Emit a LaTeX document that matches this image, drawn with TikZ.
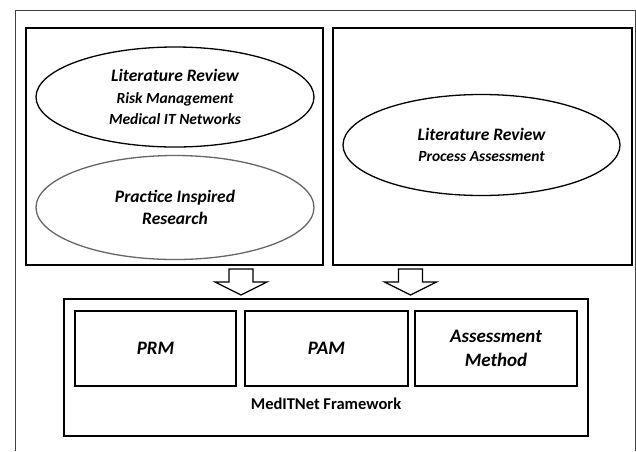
\documentclass[tikz,border=0pt]{standalone}
\usepackage{fontspec}
\setmainfont{Carlito}
\usetikzlibrary{shapes.geometric, positioning}

\tikzset{
  panel/.style={draw, line width=1.3pt, minimum width=#1, minimum height=237, inner sep=0},
  bubble/.style={ellipse, draw, line width=1.3pt, minimum width=278, minimum height=100,
    inner sep=0, align=center, font=\fontsize{15.5}{21.5}\selectfont\bfseries\itshape},
  part/.style={draw, line width=1.3pt, minimum width=#1, minimum height=75, inner sep=0,
    align=center, font=\fontsize{19}{24}\selectfont\bfseries\itshape},
  hollow/.style={draw, line width=1.3pt, fill=white}
}
\newcommand{\headtxt}[1]{{\fontsize{17.5}{21.5}\selectfont #1}}

\begin{document}
\begin{tikzpicture}[x=1pt, y=-1pt]
    \useasboundingbox (0,0) rectangle (636,451);
    % outer frame, cut off at the right and bottom
    \draw[line width=1pt, black!75] (15,451) -- (15,10) -- (635.5,10) -- (635.5,451);

    % the two sources
    \node[panel=297] (left) at (174.5,146.5) {};
    \node[panel=299] (right) at (482.5,146.5) {};
    \node[bubble] (risk) at (175,97) {\headtxt{Literature Review}\\ Risk Management\\ Medical IT Networks};
    \node[bubble, draw=black!60, minimum height=104] (practice) at (175,207.5) {\headtxt{Practice Inspired}\\ \headtxt{Research}};
    \node[bubble, minimum width=277, minimum height=101] (process) at (481.5,145) {\headtxt{Literature Review}\\ Process Assessment};

    % framework
    \node[draw, line width=1.3pt, minimum width=524, minimum height=137] (frame) at (326,367.5) {};
    \node[part=161] (prm) at (155.5,348.5) {PRM};
    \node[part=163] (pam) at (326.5,348.5) {PAM};
    \node[part=162] (am) at (496,348.5) {Assessment\\Method};
    \node[font=\fontsize{16.5}{20}\selectfont\bfseries] (title) at (326,404) {MedITNet Framework};

    % block arrows
    \coordinate (la) at (241,269);
    \coordinate (ra) at (410.5,269);
    \foreach \c in {la, ra}
      \draw[hollow, shift={(\c)}] (-12,0) -- (12,0) -- (12,13) -- (26,13) -- (0,26)
        -- (-26,13) -- (-12,13) -- cycle;
\end{tikzpicture}
\end{document}
